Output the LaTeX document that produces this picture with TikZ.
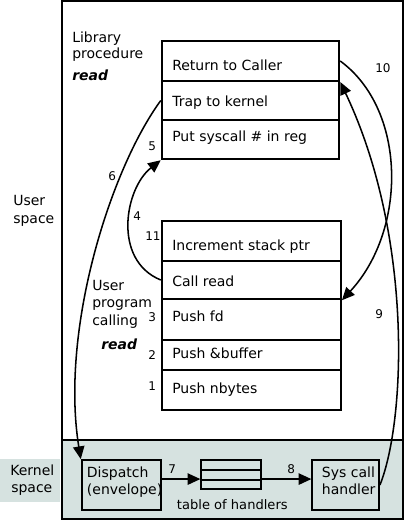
\documentclass[tikz,border=0pt]{standalone}
\usepackage{fontspec}
\setmainfont{DejaVu Sans}
\usetikzlibrary{arrows.meta,fit}
\definecolor{kfill}{RGB}{214,226,224}
\begin{document}
\begin{tikzpicture}[x=0.75pt,y=-0.75pt,
  txt/.style={anchor=base west,inner sep=0pt,font=\fontsize{10.5}{12}\selectfont},
  num/.style={anchor=base west,inner sep=0pt,font=\fontsize{9}{11}\selectfont},
  rowbox/.style={draw,line width=1.4pt,inner sep=0pt},
  frame/.style={draw,line width=1.5pt,inner sep=0pt},
  arr/.style={line width=1.15pt,-{Triangle[length=9.5pt,width=8.5pt]}},
  ]
\useasboundingbox (0,0) rectangle (406,522);
% frames
\node[frame,fit={(61.7,1) (403,440)}] (user) {};
\node[frame,fill=kfill,fit={(61.7,440) (403,519.3)}] (kernel) {};
\node[fill=kfill,inner sep=0pt,fit={(0,459) (60,501.7)}] (klab) {};
% library procedure rows
\node[rowbox,fit={(161.7,41) (339.3,81)}] (ret) {};
\node[rowbox,fit={(161.7,81) (339.3,120)}] (trap) {};
\node[rowbox,fit={(161.7,120) (339.3,159.3)}] (put) {};
% user program rows
\node[rowbox,fit={(161.7,220.7) (341,260.7)}] (inc) {};
\node[rowbox,fit={(161.7,260.7) (341,299.3)}] (call) {};
\node[rowbox,fit={(161.7,299.3) (341,340.3)}] (pfd) {};
\node[rowbox,fit={(161.7,340.3) (341,370)}] (pbuf) {};
\node[rowbox,fit={(161.7,370) (341,410)}] (pnb) {};
% kernel boxes
\node[rowbox,fit={(81.7,460) (160.7,510)}] (dispatch) {};
\node[rowbox,fit={(201.3,460) (261.3,470)}] (tab1) {};
\node[rowbox,fit={(201.3,470) (261.3,480)}] (tab2) {};
\node[rowbox,fit={(201.3,480) (261.3,489.3)}] (tab3) {};
\node[rowbox,fit={(312.3,460) (379,510)}] (handler) {};
% texts
\node[txt] (lib1) at (72,42) {Library};
\node[txt] (lib2) at (72,58) {procedure};
\node[txt] (lib3) at (72,80) {\textbf{\textit{read}}};
\node[txt] (us1) at (13,205) {User};
\node[txt] (us2) at (13,223) {space};
\node[txt] (up1) at (92,290) {User};
\node[txt] (up2) at (92,307) {program};
\node[txt] (up3) at (92,325) {calling};
\node[txt] (up4) at (101,349) {\textbf{\textit{read}}};
\node[txt] (ks1) at (10,475) {Kernel};
\node[txt] (ks2) at (11,492) {space};
\node[txt] (tret) at (172,70.7) {Return to Caller};
\node[txt] (ttrap) at (172,106) {Trap to kernel};
\node[txt] (tput) at (172,141.7) {Put syscall \# in reg};
\node[txt] (tinc) at (172,250) {Increment stack ptr};
\node[txt] (tcall) at (172,286) {Call read};
\node[txt] (tpfd) at (172,321.7) {Push fd};
\node[txt] (tpbuf) at (172,358) {Push \&buffer};
\node[txt] (tpnb) at (172,393) {Push nbytes};
\node[txt] (dis1) at (86.7,477) {Dispatch};
\node[txt] (dis2) at (86.7,494) {(envelope)};
\node[txt] (sys1) at (321.7,477) {Sys call};
\node[txt] (sys2) at (321.7,494) {handler};
\node[txt,font=\fontsize{9.8}{11}\selectfont] (ttab) at (176.7,509) {table of handlers};
% numbers
\node[num] (n5) at (148,150.7) {5};
\node[num] (n6) at (108,180) {6};
\node[num] (n4) at (133,220) {4};
\node[num] (n11) at (145,240) {11};
\node[num] (n3) at (148,321.7) {3};
\node[num] (n2) at (148,359) {2};
\node[num] (n1) at (148,390) {1};
\node[num] (n10) at (375,72.7) {10};
\node[num] (n9) at (375,318) {9};
\node[num] (n7) at (168,473) {7};
\node[num] (n8) at (287,473) {8};
% arrows
\draw[arr] (call.west) .. controls (112,260) and (125,188) .. (put.south west);
\draw[arr] (trap.west) .. controls (110,170) and (60,330) .. (dispatch.north west);
\draw[arr] (ret.east) .. controls (407,110) and (407,230) .. (call.south east);
\draw[arr] (handler.east) .. controls (406,420) and (413,235) .. (ret.south east);
\draw[arr] (dispatch.east |- tab3.north west) -- (tab3.north west);
\draw[arr] (tab3.north east) -- (handler.west |- tab3.north east);
\end{tikzpicture}
\end{document}
